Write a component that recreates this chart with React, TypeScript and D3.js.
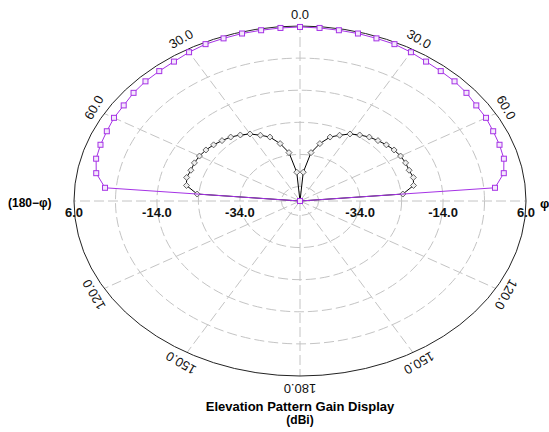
import React from 'react';
import * as d3 from 'd3';

// elevation angles (deg), one half; other half is mirrored (180-phi)
const angles = [0, 5, 10, 15, 20, 25, 30, 35, 40, 45, 50, 55, 60, 65, 70, 75, 80, 85, 90];
// gain in dBi, -60 = below floor
const gainPurple = [5.7, 5.6, 5.5, 5.5, 5.4, 5.4, 5.0, 4.5, 4.3, 4.2, 3.9, 3.4, 3.3, 2.9, 2.7, 2.4, 1.4, -1.3, -60];
const gainBlack = [-60, -39.5, -33.2, -30.0, -27.3, -25.9, -24.4, -23.4, -22.5, -21.9, -21.3, -20.8, -20.5, -20.4, -20.5, -20.2, -20.7, -23.6, -60];

const ringValues = [-44, -34, -24, -14, -4];
const ringLabels = [6, -14, -34];
const spokeAngles = [0, 30, 60, 90, 120, 150, 180, -30, -60, -90, -120, -150];
const angleTicks = [0, 30, 60, 120, 150, 180, -30, -60, -120, -150];

const W = 549, H = 432;
const cx = 300, cy = 201, rx = 226, ry = 175;

const rScale = d3.scaleLinear().domain([-48.5, 6]).range([0, 1]).clamp(true);
const rad = (a: number) => (a * Math.PI) / 180;
const px = (a: number, r: number) => cx + rx * r * Math.sin(rad(a));
const py = (a: number, r: number) => cy - ry * r * Math.cos(rad(a));

type P = { a: number; v: number };
const fullSeries = (vals: number[]): P[] => {
  const left = angles.map((a, i) => ({ a: -a, v: vals[i] })).reverse().slice(0, -1);
  const right = angles.map((a, i) => ({ a, v: vals[i] }));
  return [...left, ...right];
};

const line = d3.line<P>()
  .x(d => px(d.a, rScale(d.v)))
  .y(d => py(d.a, rScale(d.v)));

const purple = '#a633e6';
const grid = '#c4c4c4';

export default function App() {
  const sP = fullSeries(gainPurple);
  const sB = fullSeries(gainBlack);
  return (
    <svg width={W} height={H} style={{ position: 'absolute', left: 0, top: 0, background: '#fff' }}
      fontFamily="'Liberation Sans', Arial, sans-serif">
      {/* rings */}
      {ringValues.map(v => (
        <ellipse key={v} cx={cx} cy={cy} rx={rx * rScale(v)} ry={ry * rScale(v)}
          fill="none" stroke={grid} strokeWidth={1} strokeDasharray="10,4" />
      ))}
      {spokeAngles.map(a => (
        <line key={a} x1={cx} y1={cy} x2={px(a, 1)} y2={py(a, 1)}
          stroke={grid} strokeWidth={1} strokeDasharray="10,4" />
      ))}
      <ellipse cx={cx} cy={cy} rx={rx} ry={ry} fill="none" stroke="#222" strokeWidth={1} />

      {/* series */}
      <path d={line(sB) || ''} fill="none" stroke="#000" strokeWidth={1} />
      {sB.map((d, i) => {
        const x = px(d.a, rScale(d.v)), y = py(d.a, rScale(d.v));
        return <path key={'b' + i} d={`M${x},${y - 3}L${x + 3},${y}L${x},${y + 3}L${x - 3},${y}Z`}
          fill="#eeeeee" stroke="#444" strokeWidth={0.8} />;
      })}
      <path d={line(sP) || ''} fill="none" stroke={purple} strokeWidth={1} />
      {sP.map((d, i) => {
        const x = px(d.a, rScale(d.v)), y = py(d.a, rScale(d.v));
        return <rect key={'p' + i} x={x - 2.5} y={y - 2.5} width={5} height={5}
          fill="#f4e8fc" stroke={purple} strokeWidth={1} />;
      })}

      {/* angle labels */}
      {angleTicks.map(a => {
        const x = cx + (rx + 12) * Math.sin(rad(a));
        const y = cy - (ry + 12) * Math.cos(rad(a));
        return (
          <text key={a} x={x} y={y} fontSize={13} textAnchor="middle" dominantBaseline="central"
            transform={`rotate(${a},${x},${y})`} fill="#111">{Math.abs(a).toFixed(1)}</text>
        );
      })}

      {/* radial labels */}
      {ringLabels.map(v => [1, -1].map(s => (
        <text key={v + '_' + s} x={cx + s * rx * rScale(v)} y={cy + 11} fontSize={13} fontWeight="bold"
          textAnchor="middle" dominantBaseline="central" fill="#111">{v.toFixed(1)}</text>
      )))}
      <text x={8} y={cy + 2} fontSize={12} fontWeight="bold" dominantBaseline="central">(180−φ)</text>
      <text x={540} y={cy + 2} fontSize={13} fontWeight="bold" dominantBaseline="central">φ</text>

      <text x={cx} y={406} fontSize={13} fontWeight="bold" textAnchor="middle" dominantBaseline="central">
        Elevation Pattern Gain Display
      </text>
      <text x={cx} y={420} fontSize={12} fontWeight="bold" textAnchor="middle" dominantBaseline="central">(dBi)</text>
    </svg>
  );
}
